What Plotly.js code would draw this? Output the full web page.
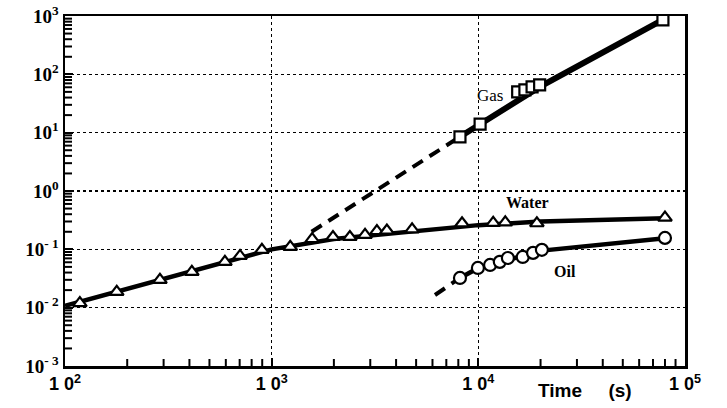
<!DOCTYPE html>
<html>
<head>
<meta charset="utf-8">
<script src="https://cdn.plot.ly/plotly-3.0.1.min.js"></script>
<style>html,body{margin:0;padding:0;background:#fff;}#chart{width:727px;height:408px;}</style>
</head>
<body>
<div id="chart"></div>
<script>
// Tick values and labels
var xTickVals = [100, 1000, 10000, 100000];
var xTickText = ['1 0<sup>2</sup>', '1 0<sup>3</sup>', '1 0<sup>4</sup>', '1 0<sup>5</sup>'];
var yTickVals = [0.001, 0.01, 0.1, 1, 10, 100, 1000];
var yTickText = ['10<sup>- 3</sup>', '10<sup>- 2</sup>', '10<sup>- 1</sup>', '10<sup>0</sup>', '10<sup>1</sup>', '10<sup>2</sup>', '10<sup>3</sup>'];
var minorDigits = [2, 3, 4, 5, 6, 7, 8, 9];

// Water: measured points (triangles) and model line
var waterT = [118, 178, 288, 411, 594, 703, 897, 1230, 1570, 1980, 2390, 2830, 3230, 3610, 4780, 8340, 11800, 13500, 19200, 80000];
var waterV = [0.012, 0.0187, 0.030, 0.041, 0.061, 0.077, 0.098, 0.11, 0.15, 0.163, 0.163, 0.177, 0.205, 0.21, 0.22, 0.28, 0.285, 0.29, 0.28, 0.35];
var waterLineT = [100, 1000, 2000, 5000, 10000, 20000, 80000];
var waterLineV = [0.0107, 0.1, 0.15, 0.21, 0.26, 0.30, 0.34];

// Gas: measured points (squares), dashed early trend and solid line
var gasT = [8150, 10200, 15500, 16800, 18200, 19800, 78200];
var gasV = [8.5, 14, 50, 54, 61, 66, 861];
var gasDashT = [1560, 8150];
var gasDashV = [0.2, 8.5];
var gasLineT = [8150, 20000, 80000];
var gasLineV = [8.5, 62, 900];

// Oil: measured points (circles), dashed early trend and solid line
var oilT = [8150, 9950, 11400, 12700, 13900, 16400, 18400, 20300, 80000];
var oilV = [0.0323, 0.048, 0.054, 0.061, 0.071, 0.074, 0.087, 0.098, 0.157];
var oilDashT = [6170, 8150];
var oilDashV = [0.0165, 0.0323];
var oilLineT = [8150, 10000, 20300, 80000];
var oilLineV = [0.0323, 0.048, 0.095, 0.155];

function minorVals(lo, hi) {
  var out = [];
  for (var e = lo; e < hi; e++) {
    minorDigits.forEach(function (d) { out.push(d * Math.pow(10, e)); });
  }
  return out;
}

var mk = function (sym, sz) {
  return {symbol: sym, size: sz, color: 'white', line: {color: 'black', width: 2.2}};
};

var xMinor = minorVals(2, 5);
var yMinor = minorVals(-3, 3);

var traces = [
  {x: waterLineT, y: waterLineV, mode: 'lines', line: {color: 'black', width: 4.5}, hoverinfo: 'skip'},
  {x: gasDashT, y: gasDashV, mode: 'lines', line: {color: 'black', width: 4, dash: '12px,8px'}, hoverinfo: 'skip'},
  {x: gasLineT, y: gasLineV, mode: 'lines', line: {color: 'black', width: 6}, hoverinfo: 'skip'},
  {x: oilDashT, y: oilDashV, mode: 'lines', line: {color: 'black', width: 4, dash: '12px,8px'}, hoverinfo: 'skip'},
  {x: oilLineT, y: oilLineV, mode: 'lines', line: {color: 'black', width: 4.5}, hoverinfo: 'skip'},
  {x: waterT, y: waterV, mode: 'markers', marker: mk('triangle-up', 12)},
  {x: gasT, y: gasV, mode: 'markers', marker: mk('square', 11)},
  {x: oilT, y: oilV, mode: 'markers', marker: mk('circle', 12)},
  // minor log ticks along the bottom and left edges (clipped to the plot area so only the inner half shows)
  {x: xMinor, y: xMinor.map(function () { return yTickVals[0]; }), mode: 'markers', cliponaxis: true,
   marker: {symbol: 'line-ns-open', size: 10, color: 'black', line: {color: 'black', width: 2}}, hoverinfo: 'skip'},
  {x: yMinor.map(function () { return xTickVals[0]; }), y: yMinor, mode: 'markers', cliponaxis: true,
   marker: {symbol: 'line-ew-open', size: 10, color: 'black', line: {color: 'black', width: 2}}, hoverinfo: 'skip'}
];

var layout = {
  width: 727, height: 408,
  margin: {l: 65, r: 42, t: 16, b: 42},
  paper_bgcolor: 'white', plot_bgcolor: 'white',
  showlegend: false,
  xaxis: {
    type: 'log', range: [2, 5],
    tickvals: xTickVals, ticktext: xTickText,
    tickfont: {family: 'Liberation Sans, Arial, sans-serif', size: 18, color: 'black', weight: 'bold'},
    ticks: 'inside', ticklen: 8, tickwidth: 2, tickcolor: 'black',
    showgrid: true, gridcolor: 'black', gridwidth: 1.2, griddash: 'dot',
    showline: true, linecolor: 'black', linewidth: 2.5, mirror: true,
    zeroline: false
  },
  yaxis: {
    type: 'log', range: [-3, 3],
    tickvals: yTickVals, ticktext: yTickText,
    tickfont: {family: 'Liberation Serif, Times New Roman, serif', size: 19, color: 'black', weight: 'bold'},
    ticks: 'inside', ticklen: 8, tickwidth: 2, tickcolor: 'black',
    showgrid: true, gridcolor: 'black', gridwidth: 1.2, griddash: 'dot',
    showline: true, linecolor: 'black', linewidth: 2.5, mirror: true,
    zeroline: false
  },
  annotations: [
    {x: Math.log10(11400), y: Math.log10(44), xref: 'x', yref: 'y', text: 'Gas', showarrow: false,
     font: {family: 'Liberation Serif, serif', size: 17, color: 'black'}},
    {x: Math.log10(17200), y: Math.log10(0.63), xref: 'x', yref: 'y', text: '<b>Water</b>', showarrow: false,
     font: {family: 'Liberation Serif, serif', size: 16, color: 'black'}},
    {x: Math.log10(26200), y: Math.log10(0.041), xref: 'x', yref: 'y', text: '<b>Oil</b>', showarrow: false,
     font: {family: 'Liberation Serif, serif', size: 16, color: 'black'}},
    {x: (585 - 65) / 620, y: -24 / 350, xref: 'paper', yref: 'paper', text: '<b>Time     (s)</b>', showarrow: false,
     xanchor: 'center', yanchor: 'middle',
     font: {family: 'Liberation Sans, Arial, sans-serif', size: 19, color: 'black'}}
  ]
};

Plotly.newPlot('chart', traces, layout, {displayModeBar: false, staticPlot: true});
</script>
</body>
</html>
